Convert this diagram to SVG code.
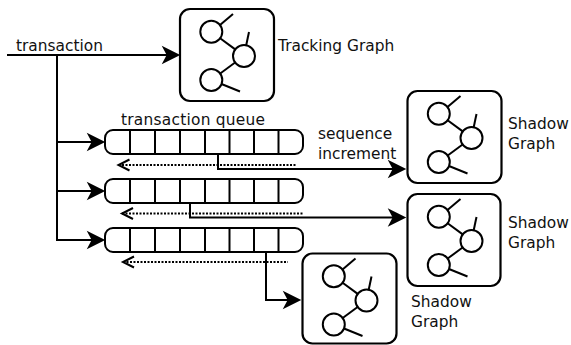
<svg xmlns="http://www.w3.org/2000/svg" xmlns:xlink="http://www.w3.org/1999/xlink" width="571" height="345" viewBox="0 0 571 345">
  <style>
    .lbl { font-family: "DejaVu Sans", "Liberation Sans", sans-serif; font-size: 15.4px; fill: #111; }
    .box { fill: #fff; stroke: #000; stroke-width: 2.2; }
    .ico { fill: none; stroke: #000; stroke-width: 2; }
    .wire { fill: none; stroke: #000; stroke-width: 2; }
    .queue { fill: #fff; stroke: #000; stroke-width: 2; }
    .cell { stroke: #000; stroke-width: 2; }
    .dots { fill: none; stroke: #000; stroke-width: 2.2; stroke-dasharray: 2 1.5; }
  </style>
  <defs>
    <marker id="head" markerUnits="userSpaceOnUse" markerWidth="24" markerHeight="24" refX="0" refY="0" viewBox="-16 -10 22 20" orient="auto" overflow="visible">
      <path d="M3,0 L-14,-8.5 L-9.5,0 L-14,8.5 Z" fill="#000"/>
    </marker>
    <marker id="chev" markerUnits="userSpaceOnUse" markerWidth="16" markerHeight="16" refX="0" refY="0" viewBox="-2 -8 16 16" orient="auto" overflow="visible">
      <path d="M11,-5.5 L0,0 L11,5.5" fill="none" stroke="#000" stroke-width="2"/>
    </marker>
    <!-- small graph glyph: three nodes with links, drawn relative to a box corner -->
    <g id="graph-icon" class="ico">
      <circle cx="31.3" cy="22.7" r="11"/>
      <circle cx="64" cy="47" r="11"/>
      <circle cx="31.3" cy="71" r="11"/>
      <line x1="40" y1="16" x2="53" y2="5"/>
      <line x1="66.2" y1="36.2" x2="69" y2="23"/>
      <line x1="40.1" y1="29.3" x2="55.2" y2="40.4"/>
      <line x1="55.1" y1="53.5" x2="40.2" y2="64.5"/>
      <line x1="41.5" y1="75" x2="60" y2="82.5"/>
    </g>
    <!-- eight-slot queue -->
    <g id="queue-shape">
      <rect class="queue" x="0" y="0" width="198" height="24" rx="8"/>
      <line class="cell" x1="25" y1="0" x2="25" y2="24"/>
      <line class="cell" x1="50" y1="0" x2="50" y2="24"/>
      <line class="cell" x1="75" y1="0" x2="75" y2="24"/>
      <line class="cell" x1="100" y1="0" x2="100" y2="24"/>
      <line class="cell" x1="124.5" y1="0" x2="124.5" y2="24"/>
      <line class="cell" x1="149" y1="0" x2="149" y2="24"/>
      <line class="cell" x1="173.5" y1="0" x2="173.5" y2="24"/>
    </g>
  </defs>

  <rect width="571" height="345" fill="#fff"/>

  <g id="connectors">
    <!-- incoming transaction stream -->
    <line class="wire" x1="7" y1="55" x2="177" y2="55" marker-end="url(#head)"/>
    <polyline class="wire" points="57,55 57,240"/>
    <line class="wire" x1="56" y1="142" x2="102" y2="142" marker-end="url(#head)"/>
    <line class="wire" x1="56" y1="191" x2="102" y2="191" marker-end="url(#head)"/>
    <line class="wire" x1="56" y1="240" x2="102" y2="240" marker-end="url(#head)"/>
    <!-- dequeue direction -->
    <line class="dots" x1="118.5" y1="165" x2="297" y2="165" marker-start="url(#chev)"/>
    <line class="dots" x1="122" y1="213.5" x2="303" y2="213.5" marker-start="url(#chev)"/>
    <line class="dots" x1="123" y1="262" x2="288" y2="262" marker-start="url(#chev)"/>
    <!-- queue outputs to shadow graphs -->
    <polyline class="wire" points="218,154 218,169 403,169" marker-end="url(#head)"/>
    <polyline class="wire" points="190,203 190,217.5 403,217.5" marker-end="url(#head)"/>
    <polyline class="wire" points="266,252 266,300 298,300" marker-end="url(#head)"/>
  </g>

  <g id="label-transaction">
    <text class="lbl" x="16" y="51">transaction</text>
  </g>

  <g id="tracking-graph">
    <rect class="box" x="180" y="9" width="94" height="92" rx="10"/>
    <use xlink:href="#graph-icon" href="#graph-icon" transform="translate(180,9)"/>
    <text class="lbl" x="278" y="51">Tracking Graph</text>
  </g>

  <g id="queue-1">
    <text class="lbl" x="121" y="125" textLength="144">transaction queue</text>
    <use xlink:href="#queue-shape" href="#queue-shape" transform="translate(105,130)"/>
  </g>
  <g id="queue-2">
    <use xlink:href="#queue-shape" href="#queue-shape" transform="translate(105,179)"/>
  </g>
  <g id="queue-3">
    <use xlink:href="#queue-shape" href="#queue-shape" transform="translate(105,228)"/>
  </g>

  <g id="label-sequence">
    <text class="lbl" x="318" y="139">sequence</text>
    <text class="lbl" x="318" y="159">increment</text>
  </g>

  <g id="shadow-graph-1">
    <rect class="box" x="407.5" y="91" width="94" height="92" rx="10"/>
    <use xlink:href="#graph-icon" href="#graph-icon" transform="translate(407.5,91)"/>
    <text class="lbl" x="508" y="129">Shadow</text>
    <text class="lbl" x="508" y="149">Graph</text>
  </g>

  <g id="shadow-graph-2">
    <rect class="box" x="407.5" y="194" width="93" height="92" rx="10"/>
    <use xlink:href="#graph-icon" href="#graph-icon" transform="translate(407.5,194)"/>
    <text class="lbl" x="508" y="228">Shadow</text>
    <text class="lbl" x="508" y="248">Graph</text>
  </g>

  <g id="shadow-graph-3">
    <rect class="box" x="302.5" y="253.5" width="94" height="90" rx="10"/>
    <use xlink:href="#graph-icon" href="#graph-icon" transform="translate(302.5,253.5)"/>
    <text class="lbl" x="411" y="307">Shadow</text>
    <text class="lbl" x="411" y="327">Graph</text>
  </g>
</svg>
